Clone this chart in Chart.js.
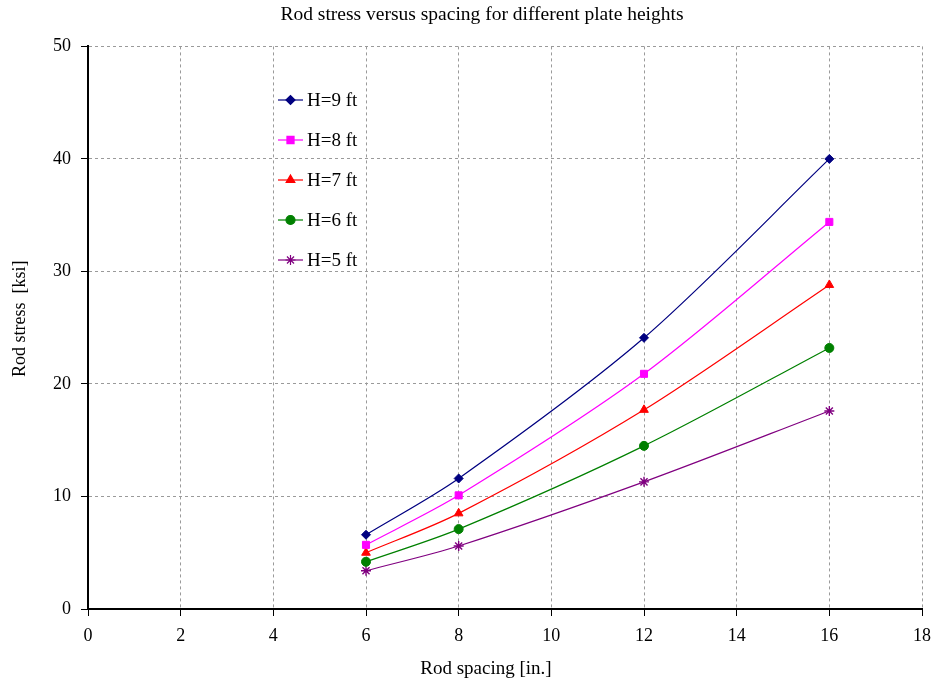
<!DOCTYPE html>
<html>
<head>
<meta charset="utf-8">
<script src="https://cdn.jsdelivr.net/npm/chart.js@4/dist/chart.umd.min.js"></script>
<style>
  html, body { margin: 0; padding: 0; background: #fff; }
  #wrap { width: 940px; height: 688px; }
</style>
</head>
<body>
<div id="wrap"><canvas id="rodChart" width="940" height="688"></canvas></div>
<script>
// Rod spacing [in.]
const spacing = [6, 8, 12, 16];
const seriesLabels = ['H=9 ft', 'H=8 ft', 'H=7 ft', 'H=6 ft', 'H=5 ft'];
// Rod stress [ksi]
const h9 = [6.6, 11.6, 24.1, 40.0];
const h8 = [5.7, 10.1, 20.9, 34.4];
const h7 = [5.0, 8.5, 17.7, 28.8];
const h6 = [4.2, 7.1, 14.5, 23.2];
const h5 = [3.4, 5.6, 11.3, 17.6];
const xTicks = [0, 2, 4, 6, 8, 10, 12, 14, 16, 18];
const yTicks = [0, 10, 20, 30, 40, 50];

const serif = '"Liberation Serif", "Times New Roman", serif';

function mkSet(label, vals, color, style, radius) {
    return {
        label: label,
        data: spacing.map((x, i) => ({ x: x, y: vals[i] })),
        borderColor: color,
        backgroundColor: color,
        borderWidth: 1.2,
        pointStyle: style,
        pointRadius: radius,
        pointHoverRadius: radius,
        pointBorderWidth: style === 'star' ? 1.4 : 1,
        tension: 0.3,
        fill: false
    };
}

// legend drawn inside the plot, like the original
const innerLegend = {
    id: 'innerLegend',
    afterDatasetsDraw(chart) {
        const ctx = chart.ctx;
        const x0 = 278, x1 = 303, tx = 307;
        chart.data.datasets.forEach((ds, i) => {
            const y = 100 + i * 40;
            ctx.save();
            ctx.strokeStyle = ds.borderColor;
            ctx.lineWidth = ds.borderWidth;
            ctx.beginPath();
            ctx.moveTo(x0, y);
            ctx.lineTo(x1, y);
            ctx.stroke();
            ctx.fillStyle = ds.backgroundColor;
            Chart.helpers.drawPoint(ctx, {
                pointStyle: ds.pointStyle,
                radius: ds.pointRadius,
                borderWidth: ds.pointBorderWidth,
                rotation: 0
            }, (x0 + x1) / 2, y);
            ctx.fillStyle = '#000';
            ctx.font = '19px ' + serif;
            ctx.textBaseline = 'middle';
            ctx.textAlign = 'left';
            ctx.fillText(ds.label, tx, y + 1);
            ctx.restore();
        });
    }
};

const gridOpts = {
    color: '#9a9a9a',
    lineWidth: 1,
    drawTicks: true,
    tickLength: 7,
    tickColor: '#000',
    tickBorderDash: [],
    tickWidth: 1
};

new Chart(document.getElementById('rodChart').getContext('2d'), {
    type: 'line',
    data: {
        datasets: [
            mkSet(seriesLabels[0], h9, '#000080', 'rectRot', 4.5),
            mkSet(seriesLabels[1], h8, '#FF00FF', 'rect', 5),
            mkSet(seriesLabels[2], h7, '#FF0000', 'triangle', 5),
            mkSet(seriesLabels[3], h6, '#008000', 'circle', 4.5),
            mkSet(seriesLabels[4], h5, '#800080', 'star', 5)
        ]
    },
    options: {
        responsive: false,
        animation: false,
        layout: { padding: { left: 0, right: 15, top: 0, bottom: 0 } },
        plugins: {
            legend: { display: false },
            tooltip: { enabled: false },
            title: {
                display: true,
                text: '        Rod stress versus spacing for different plate heights',
                color: '#000',
                font: { family: serif, size: 19.5, weight: 'normal' },
                padding: { top: 3, bottom: 20 }
            }
        },
        scales: {
            x: {
                type: 'linear',
                min: 0, max: 18,
                afterBuildTicks: s => { s.ticks = xTicks.map(v => ({ value: v })); },
                afterFit: s => { s.height = 79; },
                grid: gridOpts,
                border: { display: true, color: '#000', width: 2, dash: [3, 3] },
                ticks: { color: '#000', padding: 9, font: { family: serif, size: 18 } },
                title: {
                    display: true,
                    text: 'Rod spacing [in.]        ',
                    color: '#000',
                    font: { family: serif, size: 19 },
                    padding: { top: 0, bottom: 8 }
                }
            },
            y: {
                type: 'linear',
                min: 0, max: 50,
                afterBuildTicks: s => { s.ticks = yTicks.map(v => ({ value: v })); },
                afterFit: s => { s.width = 88; },
                grid: gridOpts,
                border: { display: true, color: '#000', width: 2, dash: [3, 3] },
                ticks: { color: '#000', padding: 10, font: { family: serif, size: 18 } },
                title: {
                    display: true,
                    text: '    Rod stress  [ksi]',
                    color: '#000',
                    font: { family: serif, size: 18 },
                    padding: { top: 9, bottom: 0 }
                }
            }
        }
    },
    plugins: [innerLegend]
});
</script>
</body>
</html>
